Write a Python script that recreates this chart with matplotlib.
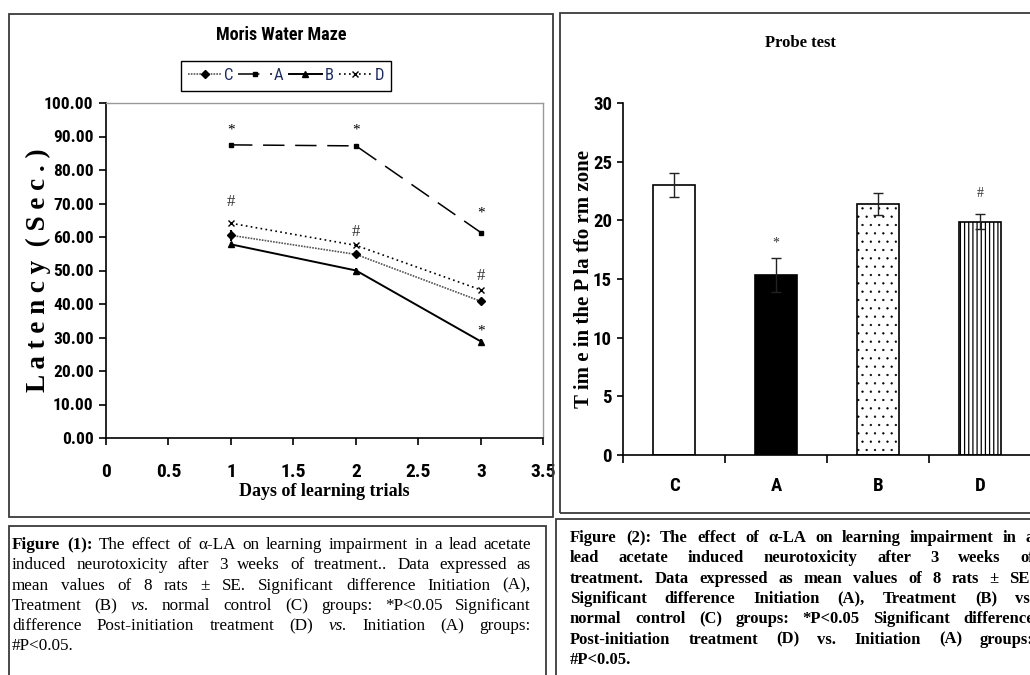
import matplotlib
matplotlib.use("Agg")
import matplotlib.pyplot as plt
from matplotlib import font_manager
from matplotlib.patches import Rectangle
from matplotlib.ticker import FormatStrFormatter, FixedLocator
import numpy as np

W, H = 1030, 675

# ---------- Figure 1: Moris water maze latency (sec) ----------
days = [1, 2, 3]
lat_C = [60.5, 54.8, 40.8]
lat_A = [87.5, 87.2, 61.3]
lat_B = [57.8, 50.0, 28.8]
lat_D = [64.1, 57.5, 44.2]
err_C = [1.6, 0.8, 0.9]
err_B = [0.6, 0.7, 0.8]
star_A = [91.8, 91.8, 67.2]
hash_D = [70.5, 61.5, 48.5]
star_B = [None, None, 32.0]

# ---------- Figure 2: probe test ----------
groups = ["C", "A", "B", "D"]
probe = [23.0, 15.3, 21.4, 19.9]
probe_err = [1.05, 1.45, 0.97, 0.65]
probe_marks = ["", "*", "", "#"]
probe_mark_y = [None, 18.1, None, 22.3]

cap1 = [
    "@bFigure @b(1): The effect of α-LA on learning impairment in a lead acetate",
    "induced neurotoxicity after 3 weeks of treatment.. Data expressed as",
    "mean values of 8 rats ± SE. Significant difference Initiation (A),",
    "Treatment (B) @ivs. normal control (C) groups: *P<0.05 Significant",
    "difference Post-initiation treatment (D) @ivs. Initiation (A) groups:",
    "#P<0.05.",
]
cap2 = [
    "Figure (2): The effect of α-LA on learning impairment in a",
    "lead acetate induced neurotoxicity after 3 weeks of",
    "treatment. Data expressed as mean values of 8 rats ± SE.",
    "Significant difference Initiation (A), Treatment (B) vs.",
    "normal control (C) groups: *P<0.05 Significant difference",
    "Post-initiation treatment (D) vs. Initiation (A) groups:",
    "#P<0.05.",
]

SERIF = ["Liberation Serif", "DejaVu Serif"]

# pick a narrow sans face if one is installed
_fonts = font_manager.fontManager.ttflist
_names = {f.name for f in _fonts}
NARROW = {"family": ["Liberation Sans", "DejaVu Sans"]}
for n in ["Liberation Sans Narrow", "Arial Narrow", "Roboto Condensed",
          "Open Sans Condensed", "DejaVu Sans Condensed", "Noto Sans Condensed"]:
    if n in _names:
        NARROW = {"family": [n, "DejaVu Sans"]}
        break
else:
    for n in ["Roboto", "Noto Sans", "Open Sans", "DejaVu Sans", "Liberation Sans"]:
        if any(f.name == n and "condensed" in str(f.stretch) for f in _fonts):
            NARROW = {"family": [n, "DejaVu Sans"], "stretch": "condensed"}
            break


def fx(x):
    return x / W


def fy(y):
    return 1 - y / H


fig = plt.figure(figsize=(W / 100, H / 100), dpi=100)

# panel boxes
for (x0, y0, x1, y1) in [(9, 14, 553, 517), (560, 13, 1040, 513),
                         (9, 526, 546, 700), (556, 519, 1040, 700)]:
    fig.patches.append(Rectangle((fx(x0), fy(y1)), (x1 - x0) / W, (y1 - y0) / H,
                                 transform=fig.transFigure, fill=False,
                                 edgecolor="#3a3a3a", lw=1.3))

# ---------------- left chart ----------------
ax1 = fig.add_axes([fx(106), fy(438), (543.5 - 106) / W, (438 - 103) / H])
ax1.plot(days, lat_C, color="#555", lw=1.2, ls=(0, (1, 0.7)), marker="D", ms=4.5,
         mfc="black", mec="black", label="C")
ax1.plot(days, lat_A, color="black", lw=1.1, ls=(0, (14, 7)), marker="s", ms=3.5,
         label="A")
ax1.plot(days, lat_B, color="black", lw=1.4, marker="^", ms=5, label="B")
ax1.plot(days, lat_D, color="black", lw=1.2, ls=(0, (1, 2)), marker="x", ms=5,
         mew=1, label="D")
ax1.errorbar(days, lat_C, yerr=err_C, fmt="none", ecolor="black", elinewidth=1.5)
ax1.errorbar(days, lat_B, yerr=err_B, fmt="none", ecolor="black", elinewidth=1.5)

for d, s in zip(days, star_A):
    ax1.text(d, s, "*", ha="center", va="center", fontsize=11, family=SERIF)
for d, s in zip(days, hash_D):
    ax1.text(d, s, "#", ha="center", va="center", fontsize=12, family=SERIF,
             color="#333")
for d, s in zip(days, star_B):
    if s is not None:
        ax1.text(d, s, "*", ha="center", va="center", fontsize=11, family=SERIF)

ax1.set_xlim(0, 3.5)
ax1.set_ylim(0, 100)
ax1.set_xticks(np.arange(0, 3.51, 0.5))
ax1.set_yticks(np.arange(0, 100.1, 10))
ax1.xaxis.set_major_formatter(FormatStrFormatter("%g"))
ax1.yaxis.set_major_formatter(FormatStrFormatter("%.2f"))
ax1.tick_params(axis="both", direction="out", length=5, width=1.2)
ax1.tick_params(axis="x", pad=13, labelsize=14)
ax1.tick_params(axis="y", pad=4, labelsize=12.5)
for lab in ax1.get_xticklabels() + ax1.get_yticklabels():
    lab.set(weight="bold", **NARROW)
for sp in ["left", "bottom"]:
    ax1.spines[sp].set_linewidth(1.2)
for sp in ["top", "right"]:
    ax1.spines[sp].set_color("#999")
    ax1.spines[sp].set_linewidth(1)

leg = ax1.legend(loc="center", bbox_to_anchor=(fx(286), fy(75.5)),
                 bbox_transform=fig.transFigure, ncol=4, handlelength=2.0,
                 handletextpad=0.15, columnspacing=0.3, borderpad=0.45,
                 fancybox=False, edgecolor="black", framealpha=1,
                 prop=dict(size=12, **NARROW), markerscale=0.8)
leg.get_frame().set_linewidth(1)
for t in leg.get_texts():
    t.set_color("#1c2c60")

fig.text(fx(281), fy(35), "Moris Water Maze", ha="center", va="center",
         weight="bold", fontsize=13, **NARROW)
fig.text(fx(324), fy(492), "Days of learning trials", ha="center", va="center",
         family=SERIF, weight="bold", fontsize=13)
fig.text(fx(38), fy(270), "L a t e n c y  ( S e c . )", ha="center", va="center",
         rotation=90, family=SERIF, weight="bold", fontsize=19.5)

# ---------------- right chart ----------------
ax2 = fig.add_axes([fx(623), fy(455), (1031 - 623) / W, (455 - 103) / H])
x = np.arange(len(groups))
bars = ax2.bar(x, probe, width=0.41, color=["white", "black", "white", "white"],
               edgecolor="black", lw=1.2)
bars[2].set_hatch("..")
bars[3].set_hatch("||||")
if hasattr(bars[2], "set_hatch_linewidth"):
    bars[2].set_hatch_linewidth(0.4)
    bars[3].set_hatch_linewidth(0.9)
ax2.errorbar(x, probe, yerr=probe_err, fmt="none", ecolor="#222", elinewidth=1,
             capsize=3.5, capthick=1)
for xi, m, my in zip(x, probe_marks, probe_mark_y):
    if m:
        ax2.text(xi, my, m, ha="center", va="center", fontsize=10, family=SERIF,
                 color="#333")

ax2.set_xlim(-0.5, 3.5)
ax2.set_ylim(0, 30)
ax2.set_yticks(np.arange(0, 30.1, 5))
ax2.yaxis.set_major_formatter(FormatStrFormatter("%d"))
ax2.set_xticks(x)
ax2.set_xticklabels(groups)
ax2.xaxis.set_minor_locator(FixedLocator([-0.5, 0.5, 1.5, 2.5]))
ax2.tick_params(axis="x", which="major", length=0, pad=16)
ax2.tick_params(axis="x", which="minor", length=6, width=1.2, direction="out")
ax2.tick_params(axis="y", length=4, width=1.2, direction="out", pad=4)
ax2.tick_params(labelsize=13.5)
for lab in ax2.get_xticklabels() + ax2.get_yticklabels():
    lab.set(weight="bold", **NARROW)
ax2.spines["top"].set_visible(False)
ax2.spines["right"].set_visible(False)
for sp in ["left", "bottom"]:
    ax2.spines[sp].set_linewidth(1.2)

fig.text(fx(800), fy(43), "Probe test", ha="center", va="center",
         family=SERIF, weight="bold", fontsize=12)
fig.text(fx(584), fy(279), "T im e in the P la tfo rm zone", ha="center",
         va="center", rotation=90, family=SERIF, weight="bold", fontsize=15)


# ---------------- captions (justified) ----------------
def caption(lines, x0, x1, y0, dy, size, bold=False):
    r = fig.canvas.get_renderer()
    for i, line in enumerate(lines):
        items = []
        for w in line.split():
            weight = "bold" if bold else "normal"
            style = "normal"
            if w.startswith("@b"):
                w, weight = w[2:], "bold"
            elif w.startswith("@i"):
                w, style = w[2:], "italic"
            items.append(fig.text(0, 0, w, fontsize=size, family=SERIF,
                                  weight=weight, style=style, va="center"))
        widths = [t.get_window_extent(r).width for t in items]
        if i == len(lines) - 1 or len(items) == 1:
            gap = 4.2
        else:
            gap = (x1 - x0 - sum(widths)) / (len(items) - 1)
        xx = x0
        for t, w in zip(items, widths):
            t.set_position((fx(xx), fy(y0 + i * dy)))
            xx += w + gap


caption(cap1, 12, 531, 545, 20.3, 12.3)
caption(cap2, 570, 1034, 538, 20.3, 12, bold=True)

fig.savefig("out.png", dpi=100)
